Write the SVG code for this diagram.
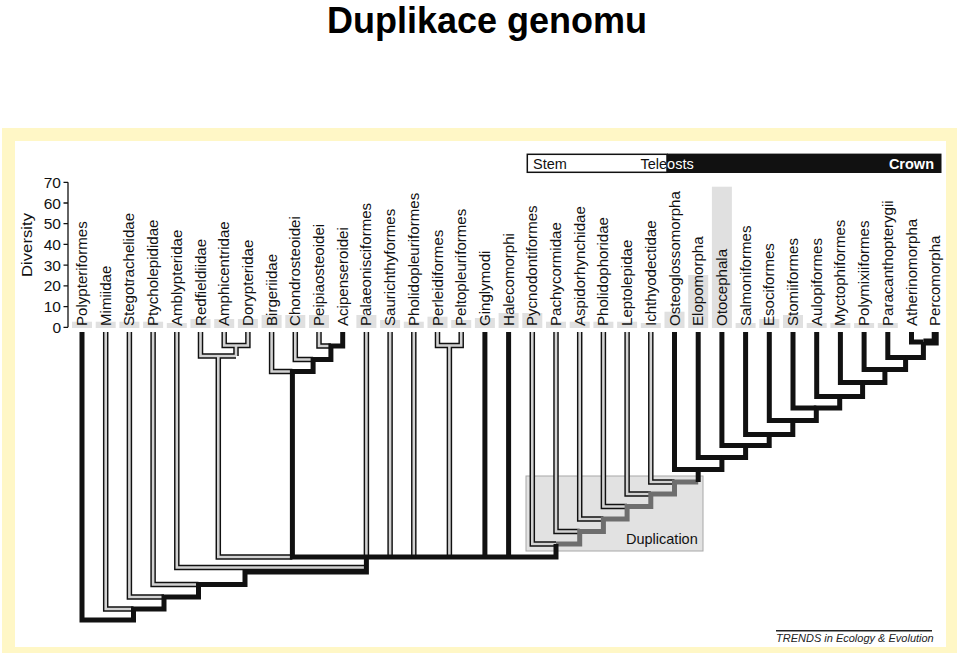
<svg xmlns="http://www.w3.org/2000/svg" xmlns:xlink="http://www.w3.org/1999/xlink" width="960" height="660" viewBox="0 0 960 660">
<style>
.ttl{font-family:"Liberation Sans",Arial,sans-serif;font-size:36px;font-weight:bold;fill:#000}
.lbl{font-family:"Liberation Sans",Arial,sans-serif;font-size:14.5px;fill:#111}
.ax{font-family:"Liberation Sans",Arial,sans-serif;font-size:15.5px;fill:#111}
.hdr{font-family:"Liberation Sans",Arial,sans-serif;font-size:14.5px;fill:#111}
.bar{fill:#e0e0e0}
.blk{fill:none;stroke:#111;stroke-width:5;stroke-linejoin:miter}
.gry{fill:none;stroke:#6e6e6e;stroke-width:5;stroke-linejoin:miter}
.dbo{fill:none;stroke:#111;stroke-width:5.5;stroke-linejoin:miter}
.dbi{fill:none;stroke:#d2d2d2;stroke-width:2.6;stroke-linejoin:miter}
</style>
<defs>
<path id="d1" d="M105.7,332 V609 H133.5"/>
<path id="d2" d="M129.4,332 V597 H164"/>
<path id="d3" d="M153.1,332 V584.5 H198.5"/>
<path id="d4" d="M176.8,332 V567.5 H366.4"/>
<path id="d5" d="M200.5,332 V356 H236"/>
<path id="d6" d="M224.2,332 V345.5 H247.9 V332"/>
<path id="d7" d="M236,345.5 V356"/>
<path id="d8" d="M218.3,356 V557 H292.4"/>
<path id="d9" d="M271.6,332 V371.5 H292.4"/>
<path id="d10" d="M295.3,332 V359.5 H313.1"/>
<path id="d11" d="M319,332 V346 H330.9"/>
<path id="d12" d="M366.4,332 V557"/>
<path id="d13" d="M390.1,332 V557"/>
<path id="d14" d="M413.8,332 V557"/>
<path id="d15" d="M437.5,332 V345.5 H461.2 V332"/>
<path id="d16" d="M449.4,345.5 V557"/>
<path id="d17" d="M532.3,332 V544 H556"/>
<path id="d18" d="M556,332 V531.5 H579.7"/>
<path id="d19" d="M579.7,332 V519 H603.4"/>
<path id="d20" d="M603.4,332 V506.5 H627.1"/>
<path id="d21" d="M627.1,332 V494 H650.8"/>
<path id="d22" d="M650.8,332 V482 H674.5"/>
</defs>

<rect x="2" y="128" width="955" height="525" fill="#fff7c6"/>
<rect x="15" y="141" width="931" height="506" fill="#ffffff"/>

<text class="ttl" x="487" y="33" text-anchor="middle">Duplikace genomu</text>

<g id="axis">
<path d="M68,182.3 V327.3 M63.5,182.3 H68 M63.5,203 H68 M63.5,223.7 H68 M63.5,244.4 H68 M63.5,265.1 H68 M63.5,285.8 H68 M63.5,306.6 H68 M63.5,327.3 H68" fill="none" stroke="#111" stroke-width="1.3"/>
<text class="ax" x="61" y="187.8" text-anchor="end">70</text>
<text class="ax" x="61" y="208.5" text-anchor="end">60</text>
<text class="ax" x="61" y="229.2" text-anchor="end">50</text>
<text class="ax" x="61" y="249.9" text-anchor="end">40</text>
<text class="ax" x="61" y="270.6" text-anchor="end">30</text>
<text class="ax" x="61" y="291.3" text-anchor="end">20</text>
<text class="ax" x="61" y="312.1" text-anchor="end">10</text>
<text class="ax" x="61" y="332.8" text-anchor="end">0</text>
<text class="ax" transform="translate(31.5,245) rotate(-90) scale(1.08,1)" text-anchor="middle">Diversity</text>
</g>

<g id="header">
<rect x="527.3" y="154.3" width="139.7" height="18" fill="#fff" stroke="#111" stroke-width="1.5"/>
<rect x="667" y="153.6" width="274.5" height="19.4" fill="#111"/>
<text class="hdr" x="533" y="168.8">Stem</text>
<text class="hdr" x="640.5" y="168.8">Tele<tspan fill="#fff">osts</tspan></text>
<text class="hdr" x="934" y="168.8" text-anchor="end" style="fill:#fff;font-weight:bold">Crown</text>
</g>

<g id="duplication">
<rect x="526" y="476" width="177" height="75" fill="#e2e2e2" stroke="#a8a8a8" stroke-width="1"/>
<text class="hdr" x="626" y="543.5">Duplication</text>
</g>

<g id="t1"><rect class="bar" x="72" y="321.7" width="20" height="6.3"/><text class="lbl" transform="translate(87,326) rotate(-90) scale(1.04,1)">Polypteriformes</text></g>
<g id="t2"><rect class="bar" x="95.7" y="321.7" width="20" height="6.3"/><text class="lbl" transform="translate(110.7,326) rotate(-90) scale(1.04,1)">Mimiidae</text></g>
<g id="t3"><rect class="bar" x="119.4" y="321.7" width="20" height="6.3"/><text class="lbl" transform="translate(134.4,326) rotate(-90) scale(1.04,1)">Stegotrachelidae</text></g>
<g id="t4"><rect class="bar" x="143.1" y="321.7" width="20" height="6.3"/><text class="lbl" transform="translate(158.1,326) rotate(-90) scale(1.04,1)">Ptycholepididae</text></g>
<g id="t5"><rect class="bar" x="166.8" y="323" width="20" height="5"/><text class="lbl" transform="translate(181.8,326) rotate(-90) scale(1.04,1)">Amblypteridae</text></g>
<g id="t6"><rect class="bar" x="190.5" y="319" width="20" height="9"/><text class="lbl" transform="translate(205.5,326) rotate(-90) scale(1.04,1)">Redfieldiidae</text></g>
<g id="t7"><rect class="bar" x="214.2" y="319" width="20" height="9"/><text class="lbl" transform="translate(229.2,326) rotate(-90) scale(1.04,1)">Amphicentridae</text></g>
<g id="t8"><rect class="bar" x="237.9" y="319" width="20" height="9"/><text class="lbl" transform="translate(252.9,326) rotate(-90) scale(1.04,1)">Dorypteridae</text></g>
<g id="t9"><rect class="bar" x="261.6" y="315" width="20" height="13"/><text class="lbl" transform="translate(276.6,326) rotate(-90) scale(1.04,1)">Birgeriidae</text></g>
<g id="t10"><rect class="bar" x="285.3" y="315" width="20" height="13"/><text class="lbl" transform="translate(300.3,326) rotate(-90) scale(1.04,1)">Chondrosteoidei</text></g>
<g id="t11"><rect class="bar" x="309" y="315" width="20" height="13"/><text class="lbl" transform="translate(324,326) rotate(-90) scale(1.04,1)">Peipiaosteoidei</text></g>
<g id="t12"><text class="lbl" transform="translate(347.7,326) rotate(-90) scale(1.04,1)">Acipenseroidei</text></g>
<g id="t13"><rect class="bar" x="356.4" y="315" width="20" height="13"/><text class="lbl" transform="translate(371.4,326) rotate(-90) scale(1.04,1)">Palaeonisciformes</text></g>
<g id="t14"><rect class="bar" x="380.1" y="320" width="20" height="8"/><text class="lbl" transform="translate(395.1,326) rotate(-90) scale(1.04,1)">Saurichthyformes</text></g>
<g id="t15"><rect class="bar" x="403.8" y="321.7" width="20" height="6.3"/><text class="lbl" transform="translate(418.8,326) rotate(-90) scale(1.04,1)">Pholidopleuriformes</text></g>
<g id="t16"><rect class="bar" x="427.5" y="316.7" width="20" height="11.3"/><text class="lbl" transform="translate(442.5,326) rotate(-90) scale(1.04,1)">Perleidiformes</text></g>
<g id="t17"><rect class="bar" x="451.2" y="320" width="20" height="8"/><text class="lbl" transform="translate(466.2,326) rotate(-90) scale(1.04,1)">Peltopleuriformes</text></g>
<g id="t18"><rect class="bar" x="474.9" y="318" width="20" height="10"/><text class="lbl" transform="translate(489.9,326) rotate(-90) scale(1.04,1)">Ginglymodi</text></g>
<g id="t19"><rect class="bar" x="498.6" y="313" width="20" height="15"/><text class="lbl" transform="translate(513.6,326) rotate(-90) scale(1.04,1)">Halecomorphi</text></g>
<g id="t20"><rect class="bar" x="522.3" y="313" width="20" height="15"/><text class="lbl" transform="translate(537.3,326) rotate(-90) scale(1.04,1)">Pycnodontiformes</text></g>
<g id="t21"><rect class="bar" x="546" y="321.7" width="20" height="6.3"/><text class="lbl" transform="translate(561,326) rotate(-90) scale(1.04,1)">Pachycormidae</text></g>
<g id="t22"><rect class="bar" x="569.7" y="321.7" width="20" height="6.3"/><text class="lbl" transform="translate(584.7,326) rotate(-90) scale(1.04,1)">Aspidorhynchidae</text></g>
<g id="t23"><rect class="bar" x="593.4" y="321.7" width="20" height="6.3"/><text class="lbl" transform="translate(608.4,326) rotate(-90) scale(1.04,1)">Pholidophoridae</text></g>
<g id="t24"><rect class="bar" x="617.1" y="321.7" width="20" height="6.3"/><text class="lbl" transform="translate(632.1,326) rotate(-90) scale(1.04,1)">Leptolepidae</text></g>
<g id="t25"><rect class="bar" x="640.8" y="323" width="20" height="5"/><text class="lbl" transform="translate(655.8,326) rotate(-90) scale(1.04,1)">Ichthyodectidae</text></g>
<g id="t26"><rect class="bar" x="664.5" y="311.7" width="20" height="16.3"/><text class="lbl" transform="translate(679.5,326) rotate(-90) scale(1.04,1)">Osteoglossomorpha</text></g>
<g id="t27"><rect class="bar" x="688.2" y="275" width="20" height="53"/><text class="lbl" transform="translate(703.2,326) rotate(-90) scale(1.04,1)">Elopomorpha</text></g>
<g id="t28"><rect class="bar" x="711.9" y="186.7" width="20" height="141.3"/><text class="lbl" transform="translate(726.9,326) rotate(-90) scale(1.04,1)">Otocephala</text></g>
<g id="t29"><rect class="bar" x="735.6" y="323" width="20" height="5"/><text class="lbl" transform="translate(750.6,326) rotate(-90) scale(1.04,1)">Salmoniformes</text></g>
<g id="t30"><rect class="bar" x="759.3" y="319" width="20" height="9"/><text class="lbl" transform="translate(774.3,326) rotate(-90) scale(1.04,1)">Esociformes</text></g>
<g id="t31"><rect class="bar" x="783" y="315" width="20" height="13"/><text class="lbl" transform="translate(798,326) rotate(-90) scale(1.04,1)">Stomiiformes</text></g>
<g id="t32"><rect class="bar" x="806.7" y="323" width="20" height="5"/><text class="lbl" transform="translate(821.7,326) rotate(-90) scale(1.04,1)">Aulopiformes</text></g>
<g id="t33"><rect class="bar" x="830.4" y="323" width="20" height="5"/><text class="lbl" transform="translate(845.4,326) rotate(-90) scale(1.04,1)">Myctophiformes</text></g>
<g id="t34"><rect class="bar" x="854.1" y="323" width="20" height="5"/><text class="lbl" transform="translate(869.1,326) rotate(-90) scale(1.04,1)">Polymixiiformes</text></g>
<g id="t35"><rect class="bar" x="877.8" y="323" width="20" height="5"/><text class="lbl" transform="translate(892.8,326) rotate(-90) scale(1.04,1)">Paracanthopterygii</text></g>
<g id="t36"><text class="lbl" transform="translate(916.5,326) rotate(-90) scale(1.04,1)">Atherinomorpha</text></g>
<g id="t37"><text class="lbl" transform="translate(940.2,326) rotate(-90) scale(1.04,1)">Percomorpha</text></g>

<g id="connectors">
<g class="dbo">
<use xlink:href="#d1"/><use xlink:href="#d2"/><use xlink:href="#d3"/><use xlink:href="#d4"/><use xlink:href="#d5"/><use xlink:href="#d6"/><use xlink:href="#d7"/><use xlink:href="#d8"/><use xlink:href="#d9"/><use xlink:href="#d10"/><use xlink:href="#d11"/><use xlink:href="#d12"/><use xlink:href="#d13"/><use xlink:href="#d14"/><use xlink:href="#d15"/><use xlink:href="#d16"/><use xlink:href="#d17"/><use xlink:href="#d18"/><use xlink:href="#d19"/><use xlink:href="#d20"/><use xlink:href="#d21"/><use xlink:href="#d22"/>
</g>
<g class="dbi">
<use xlink:href="#d1"/><use xlink:href="#d2"/><use xlink:href="#d3"/><use xlink:href="#d4"/><use xlink:href="#d5"/><use xlink:href="#d6"/><use xlink:href="#d7"/><use xlink:href="#d8"/><use xlink:href="#d9"/><use xlink:href="#d10"/><use xlink:href="#d11"/><use xlink:href="#d12"/><use xlink:href="#d13"/><use xlink:href="#d14"/><use xlink:href="#d15"/><use xlink:href="#d16"/><use xlink:href="#d17"/><use xlink:href="#d18"/><use xlink:href="#d19"/><use xlink:href="#d20"/><use xlink:href="#d21"/><use xlink:href="#d22"/>
</g>
<path class="gry" d="M556,544 H579.7 V531.5 H603.4 V519 H627.1 V506.5 H650.8 V494 H674.5 V482 H698.2"/>
<path class="blk" d="M82,332 V620 H133.5 V609 H164 V597 H198.5 V584.5 H245 V572 H366.4 V557"/>
<path class="blk" d="M342.7,332 V346 H330.9 V359.5 H313.1 V371.5 H292.4 V557 H556 V544"/>
<path class="blk" d="M484.9,332 V557 M508.6,332 V557"/>
<path class="blk" d="M923.4,342 V357.5 H905.6 V369.5 H884.9 V382.5 H862.6 V396.5 H839.7 V408 H816.3 V420.5 H792.8 V434.5 H769.2 V445.5 H745.6 V457.5 H721.9 V469.5 H698.2 V482"/>
<path class="blk" d="M674.5,332 V469.5 H698.2 M698.2,332 V457.5 H721.9 M721.9,332 V445.5 H745.6 M745.6,332 V434.5 H769.2 M769.3,332 V420.5 H792.8 M793,332 V408 H816.3 M816.7,332 V396.5 H839.7 M840.4,332 V382.5 H862.6 M864.1,332 V369.5 H884.9 M887.8,332 V357.5 H905.6 M911.5,332 V342 H923.4"/>
<path class="blk" d="M935.2,332 V342 H923.4" style="stroke-width:7"/>
</g>

<g id="footer">
<path d="M776,630.7 H932" stroke="#222" stroke-width="1.5"/>
<text x="776" y="642" style="font-family:'Liberation Sans',Arial,sans-serif;font-size:11px;font-style:italic;fill:#222">TRENDS in Ecology &amp; Evolution</text>
</g>
</svg>
